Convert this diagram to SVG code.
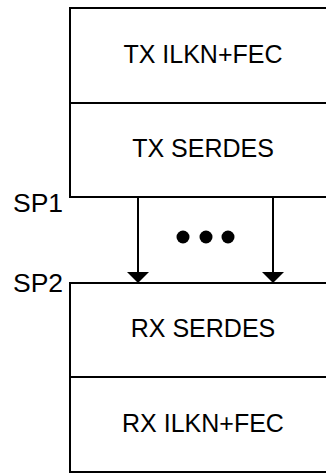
<svg xmlns="http://www.w3.org/2000/svg" width="326" height="473" viewBox="0 0 326 473">
<style>
.box{fill:#fff;stroke:#000;stroke-width:2}
.t{font-family:"Liberation Sans",Arial,sans-serif;font-size:25px;fill:#000;text-anchor:middle}
.l{font-family:"Liberation Sans",Arial,sans-serif;font-size:26.5px;fill:#000}
.c{stroke:#000;stroke-width:2;fill:none}
.ah{fill:#000}
</style>
<g id="tx-ilkn"><rect class="box" x="70" y="8" width="270" height="95"/><text class="t" x="203" y="63">TX ILKN+FEC</text></g>
<g id="tx-serdes"><rect class="box" x="70" y="103" width="270" height="94"/><text class="t" x="203" y="157">TX SERDES</text></g>
<g id="rx-serdes"><rect class="box" x="70" y="283" width="270" height="94"/><text class="t" x="203" y="337">RX SERDES</text></g>
<g id="rx-ilkn"><rect class="box" x="70" y="377" width="270" height="95"/><text class="t" x="203" y="432">RX ILKN+FEC</text></g>
<g id="labels"><text class="l" x="13" y="212">SP1</text><text class="l" x="13" y="292">SP2</text></g>
<g id="connectors">
<line class="c" x1="138" y1="197" x2="138" y2="273"/>
<path class="ah" d="M127,272 L149,272 L138,283 Z"/>
<line class="c" x1="273" y1="197" x2="273" y2="273"/>
<path class="ah" d="M262,272 L284,272 L273,283 Z"/>
</g>
<g id="dots"><circle cx="183" cy="237" r="6.5"/><circle cx="206" cy="237" r="6.5"/><circle cx="228" cy="237" r="6.5"/></g>
</svg>
